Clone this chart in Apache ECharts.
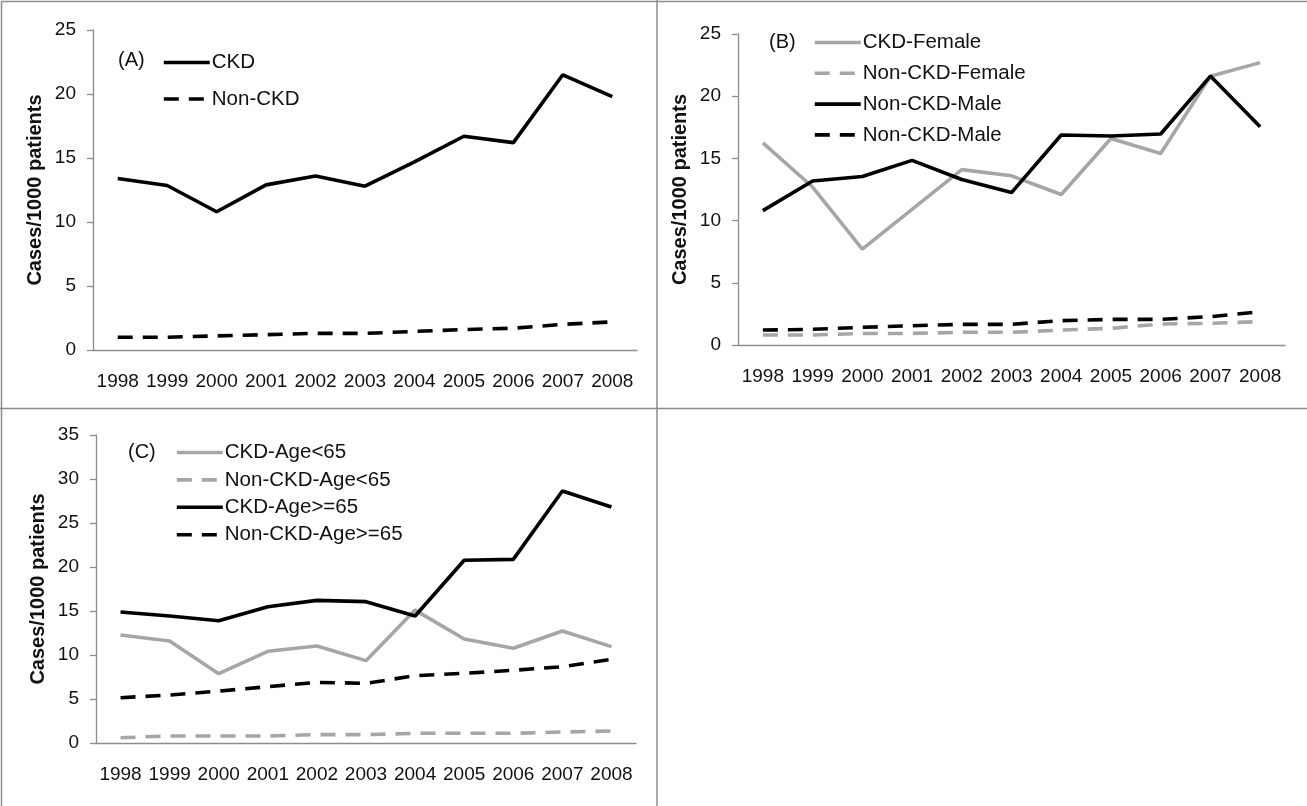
<!DOCTYPE html>
<html>
<head>
<meta charset="utf-8">
<script src="https://cdn.jsdelivr.net/npm/echarts@6/dist/echarts.min.js"></script>
<style>
html,body{margin:0;padding:0;background:#fff;}
#c{width:1307px;height:806px;}
</style>
</head>
<body>
<div id="c"></div>
<script>
// ---- data ----
var years = ['1998','1999','2000','2001','2002','2003','2004','2005','2006','2007','2008'];

// Panel A
var aCKD    = [13.4, 12.85, 10.8, 12.9, 13.6, 12.8, 14.7, 16.7, 16.2, 21.5, 19.8];
var aNonCKD = [1.0, 1.0, 1.1, 1.2, 1.3, 1.3, 1.45, 1.6, 1.7, 2.0, 2.2];

// Panel B
var bCKDFemale    = [16.25, 12.7, 7.7, 10.9, 14.1, 13.6, 12.1, 16.6, 15.4, 21.6, 22.7];
var bNonCKDFemale = [0.8, 0.8, 0.93, 0.93, 1.02, 1.02, 1.2, 1.34, 1.69, 1.74, 1.88];
var bCKDMale      = [10.8, 13.18, 13.55, 14.84, 13.3, 12.25, 16.88, 16.8, 16.96, 21.62, 17.55];
var bNonCKDMale   = [1.2, 1.26, 1.42, 1.55, 1.66, 1.66, 1.96, 2.06, 2.06, 2.28, 2.68];

// Panel C
var cCKDYoung    = [12.27, 11.59, 7.88, 10.42, 11.02, 9.36, 15.1, 11.82, 10.76, 12.73, 10.95];
var cNonCKDYoung = [0.6, 0.8, 0.8, 0.8, 0.95, 0.95, 1.1, 1.1, 1.1, 1.25, 1.36];
var cCKDOld      = [14.89, 14.43, 13.9, 15.49, 16.21, 16.06, 14.43, 20.76, 20.87, 28.64, 26.82];
var cNonCKDOld   = [5.15, 5.45, 5.9, 6.4, 6.89, 6.78, 7.65, 7.92, 8.26, 8.67, 9.5];

// legend labels
var namesA = ['CKD', 'Non-CKD'];
var namesB = ['CKD-Female', 'Non-CKD-Female', 'Non-CKD-Male', 'Non-CKD-Male '];
var namesC = ['CKD-Age<65', 'Non-CKD-Age<65', 'CKD-Age>=65', 'Non-CKD-Age>=65'];
var panelLabels = ['(A)', '(B)', '(C)'];
var yTitle = 'Cases/1000 patients';

// ---- styles ----
var FONT = '"Liberation Sans", Arial, sans-serif';
var BLACK = '#000000';
var GRAY = '#a6a6a6';
var AXIS = '#8c8c8c';
var DASH = [15, 10];
var LW = 3.6;
var LEGFS = 20.5;

function xAxis(gi) {
  return {
    type: 'category', gridIndex: gi, data: years, boundaryGap: true,
    axisLine: {lineStyle: {color: AXIS, width: 1.3}},
    axisTick: {lineStyle: {color: AXIS, width: 1.3}, length: 5},
    axisLabel: {color: '#111', fontFamily: FONT, fontSize: 19, margin: 22, interval: 0},
    splitLine: {show: false}
  };
}
function yAxis(gi, max) {
  return {
    type: 'value', gridIndex: gi, min: 0, max: max, interval: 5,
    name: yTitle, nameLocation: 'middle', nameGap: 48,
    nameTextStyle: {fontFamily: FONT, fontSize: 20, fontWeight: 'bold', color: '#111'},
    axisLine: {show: true, lineStyle: {color: AXIS, width: 1.3}},
    axisTick: {show: true, lineStyle: {color: AXIS, width: 1.3}, length: 6},
    axisLabel: {color: '#111', fontFamily: FONT, fontSize: 19, margin: 17},
    splitLine: {show: false}
  };
}
function line(name, gi, data, color, dashed) {
  return {
    name: name, type: 'line', xAxisIndex: gi, yAxisIndex: gi, data: data,
    symbol: 'none', smooth: false,
    lineStyle: {color: color, width: LW, type: dashed ? DASH : 'solid', cap: 'butt'},
    itemStyle: {color: color}
  };
}
function legend(names, left, top, gap) {
  return {
    data: names, orient: 'vertical', left: left, top: top, itemGap: gap,
    itemWidth: 46, itemHeight: 14, selectedMode: false, padding: 0,
    itemStyle: {color: 'rgba(0,0,0,0)', borderColor: 'rgba(0,0,0,0)', borderWidth: 0},
    lineStyle: {width: LW},
    textStyle: {fontFamily: FONT, fontSize: LEGFS, color: '#111', padding: [0,0,0,-3]}
  };
}
function txt(s, x, y) {
  return {type: 'text', left: x, top: y, style: {text: s, font: '20px ' + FONT, fill: '#111'}};
}
function ln(x1, y1, x2, y2) {
  return {type: 'line', shape: {x1: x1, y1: y1, x2: x2, y2: y2}, style: {stroke: AXIS, lineWidth: 1.5}, silent: true};
}

var chart = echarts.init(document.getElementById('c'), null, {renderer: 'canvas'});
chart.setOption({
  animation: false,
  backgroundColor: '#fff',
  grid: [
    {left: 93, top: 30, right: 670, bottom: 456},
    {left: 738, top: 34, right: 22, bottom: 461},
    {left: 96, top: 435, right: 671, bottom: 63}
  ],
  xAxis: [xAxis(0), xAxis(1), xAxis(2)],
  yAxis: [yAxis(0, 25), yAxis(1, 25), yAxis(2, 35)],
  legend: [
    legend(namesA, 162, 52, 15.5),
    legend(namesB, 813, 32, 9.8),
    legend(namesC, 175, 442, 6.4)
  ],
  series: [
    line(namesA[0], 0, aCKD, BLACK, false),
    line(namesA[1], 0, aNonCKD, BLACK, true),
    line(namesB[0], 1, bCKDFemale, GRAY, false),
    line(namesB[1], 1, bNonCKDFemale, GRAY, true),
    line(namesB[2], 1, bCKDMale, BLACK, false),
    line(namesB[3], 1, bNonCKDMale, BLACK, true),
    line(namesC[0], 2, cCKDYoung, GRAY, false),
    line(namesC[1], 2, cNonCKDYoung, GRAY, true),
    line(namesC[2], 2, cCKDOld, BLACK, false),
    line(namesC[3], 2, cNonCKDOld, BLACK, true)
  ],
  graphic: [
    txt(panelLabels[0], 118, 50),
    txt(panelLabels[1], 769, 32),
    txt(panelLabels[2], 128, 442),
    ln(1.5, 1.5, 1307, 1.5),
    ln(1.5, 1.5, 1.5, 806),
    ln(657, 0, 657, 806),
    ln(0, 408.5, 1307, 408.5)
  ]
});
</script>
</body>
</html>
